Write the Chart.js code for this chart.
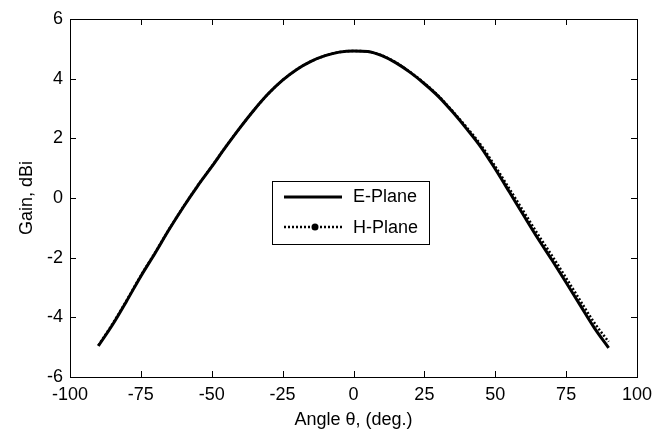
<!DOCTYPE html>
<html>
<head>
<meta charset="utf-8">
<script src="https://cdn.jsdelivr.net/npm/chart.js@4"></script>
<style>
  html, body { margin: 0; padding: 0; background: #fff; }
  #wrap { width: 666px; height: 434px; }
</style>
</head>
<body>
<div id="wrap"><canvas id="mycanvas" width="666" height="434"></canvas></div>
<script>
// angle (deg) and gain (dBi)
var angles = [-90,-85,-80,-75,-70,-65,-60,-55,-50,-45,-40,-35,-30,-25,-20,-15,-10,-5,0,
              5,10,15,20,25,30,35,40,45,50,55,60,65,70,75,80,85,90];
var ePlane = [-4.96,-4.25,-3.45,-2.62,-1.85,-1.05,-0.30,0.40,1.05,1.72,2.36,2.96,3.50,3.95,4.31,4.58,4.77,4.89,4.93,
              4.91,4.77,4.53,4.21,3.83,3.40,2.88,2.31,1.70,0.97,0.20,-0.58,-1.35,-2.08,-2.83,-3.60,-4.36,-5.02];
var hPlane = [-4.94,-4.22,-3.43,-2.60,-1.83,-1.04,-0.29,0.41,1.06,1.73,2.36,2.96,3.50,3.95,4.31,4.58,4.77,4.89,4.93,
              4.91,4.78,4.54,4.22,3.85,3.42,2.91,2.36,1.77,1.06,0.31,-0.45,-1.21,-1.93,-2.68,-3.44,-4.19,-4.82];
var xTicks = [-100,-75,-50,-25,0,25,50,75,100];
var yTicks = [-6,-4,-2,0,2,4,6];
var seriesNames = ['E-Plane','H-Plane'];

var FONT = "'Liberation Sans', Arial, Helvetica, sans-serif";

function pts(ys) {
  var out = [];
  for (var i in angles) out.push({x: angles[i], y: ys[i]});
  return out;
}

// matlab style box with inward ticks + legend
var boxPlugin = {
  id: 'box',
  afterDatasetsDraw: function(chart) {
    var ctx = chart.ctx, a = chart.chartArea;
    var sx = chart.scales.x, sy = chart.scales.y;
    var len = 6;
    ctx.save();
    ctx.strokeStyle = '#000';
    ctx.lineWidth = 1;
    ctx.beginPath();
    xTicks.forEach(function(v) {
      var px = Math.round(sx.getPixelForValue(v)) + 0.5;
      ctx.moveTo(px, a.bottom); ctx.lineTo(px, a.bottom - len);
      ctx.moveTo(px, a.top); ctx.lineTo(px, a.top + len);
    });
    yTicks.forEach(function(v) {
      var py = Math.round(sy.getPixelForValue(v)) + 0.5;
      ctx.moveTo(a.left, py); ctx.lineTo(a.left + len, py);
      ctx.moveTo(a.right, py); ctx.lineTo(a.right - len, py);
    });
    ctx.stroke();
    ctx.strokeRect(Math.round(a.left) + 0.5, Math.round(a.top) + 0.5,
                   Math.round(a.right - a.left), Math.round(a.bottom - a.top));

    // legend
    var lx = 272.5, ly = 181.5, lw = 157, lh = 63;
    ctx.fillStyle = '#fff';
    ctx.fillRect(lx, ly, lw, lh);
    ctx.strokeRect(lx, ly, lw, lh);
    ctx.lineWidth = 3;
    ctx.beginPath();
    ctx.moveTo(284, 197); ctx.lineTo(342, 197);
    ctx.stroke();
    ctx.lineWidth = 2.5;
    ctx.setLineDash([2, 2]);
    ctx.beginPath();
    ctx.moveTo(284, 227); ctx.lineTo(342, 227);
    ctx.stroke();
    ctx.setLineDash([]);
    ctx.fillStyle = '#000';
    ctx.beginPath();
    ctx.arc(315, 227, 3.5, 0, Math.PI * 2);
    ctx.fill();
    ctx.font = '18px ' + FONT;
    ctx.textBaseline = 'middle';
    ctx.textAlign = 'left';
    ctx.fillText(seriesNames[0], 353, 197);
    ctx.fillText(seriesNames[1], 353, 228);
    ctx.restore();
  }
};

var ctx = document.getElementById('mycanvas');
var lineGraph = new Chart(ctx, {
  type: 'scatter',
  data: {
    datasets: [
      {
        label: seriesNames[0],
        data: pts(ePlane),
        showLine: true,
        borderColor: '#000',
        borderWidth: 3,
        pointRadius: 0,
        cubicInterpolationMode: 'monotone'
      },
      {
        label: seriesNames[1],
        data: pts(hPlane),
        showLine: true,
        borderColor: '#000',
        borderWidth: 2.5,
        borderDash: [2, 2],
        pointRadius: 0,
        cubicInterpolationMode: 'monotone'
      }
    ]
  },
  options: {
    responsive: false,
    animation: false,
    layout: { padding: { top: 19, right: 29, left: 0, bottom: 0 } },
    plugins: { legend: { display: false }, tooltip: { enabled: false } },
    scales: {
      x: {
        type: 'linear',
        min: -100, max: 100,
        afterBuildTicks: function(s) { s.ticks = xTicks.map(function(v) { return {value: v}; }); },
        afterFit: function(s) { s.height = 57; },
        grid: { drawOnChartArea: false, drawTicks: false },
        border: { display: false },
        ticks: { color: '#000', font: { family: FONT, size: 18 }, padding: 7, maxRotation: 0 },
        title: { display: true, text: 'Angle θ, (deg.)', color: '#000',
                 font: { family: FONT, size: 18 }, padding: { top: 0, bottom: 3 } }
      },
      y: {
        type: 'linear',
        min: -6, max: 6,
        afterBuildTicks: function(s) { s.ticks = yTicks.map(function(v) { return {value: v}; }); },
        afterFit: function(s) { s.width = 70; },
        grid: { drawOnChartArea: false, drawTicks: false },
        border: { display: false },
        ticks: { color: '#000', font: { family: FONT, size: 18 }, padding: 7 },
        title: { display: true, text: 'Gain, dBi', color: '#000',
                 font: { family: FONT, size: 18 }, padding: { top: 16, bottom: 0 } }
      }
    }
  },
  plugins: [boxPlugin]
});
</script>
</body>
</html>
